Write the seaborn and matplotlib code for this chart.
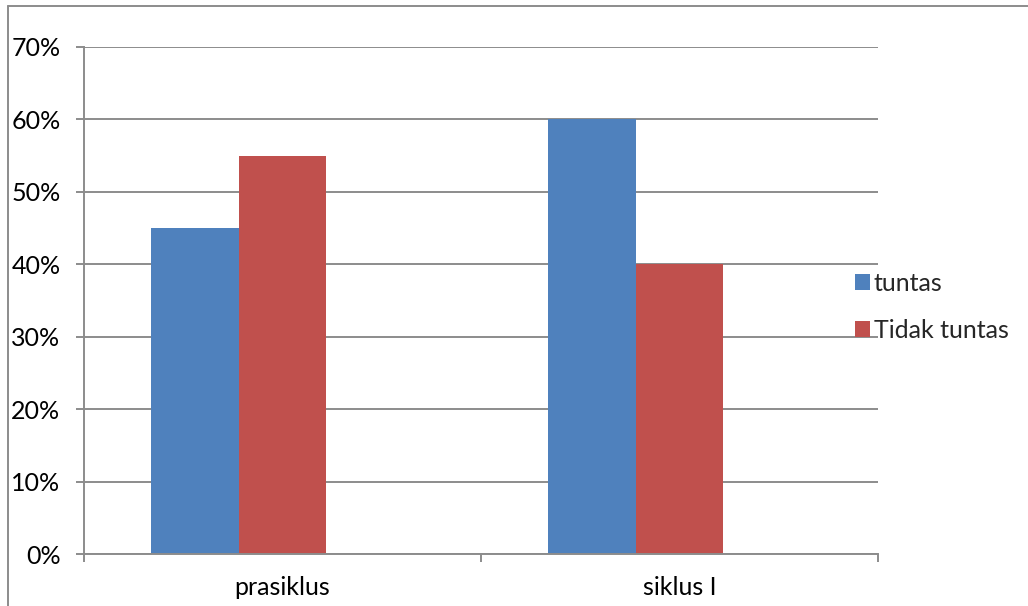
import matplotlib
matplotlib.use("Agg")
import matplotlib.pyplot as plt
import seaborn as sns
import pandas as pd
from matplotlib.patches import Patch
from matplotlib.lines import Line2D
from matplotlib.ticker import FixedLocator, PercentFormatter

categories = ["prasiklus", "siklus I"]
tuntas = [0.45, 0.60]
tidak_tuntas = [0.55, 0.40]
series_names = ["tuntas", "Tidak tuntas"]
y_ticks = [0, 0.1, 0.2, 0.3, 0.4, 0.5, 0.6, 0.7]

colors = ["#4F81BD", "#C0504D", "#9BBB59"]
grid_color = "#8C8C8C"

sns.set_theme(style="white")
plt.rcParams["font.family"] = ["Lato", "DejaVu Sans"]

df = pd.DataFrame({
    "kategori": categories * 2,
    "seri": [series_names[0]] * 2 + [series_names[1]] * 2,
    "nilai": tuntas + tidak_tuntas,
})

fig = plt.figure(figsize=(10.28, 6.06), dpi=100)
W, H = 1028, 606
ax = fig.add_axes([84 / W, (H - 554) / H, (878 - 84) / W, (554 - 47) / H])

# three slots per category (the third slot is an empty series), as in the source workbook
sns.barplot(data=df, x="kategori", y="nilai", hue="seri",
            hue_order=series_names + [""], palette=colors,
            order=categories, width=0.663, gap=0, ax=ax,
            errorbar=None, legend=False, saturation=1, linewidth=0)

ax.set_xlim(-0.5, 1.5)
ax.set_ylim(0, 0.7)
ax.set_yticks(y_ticks)
ax.yaxis.set_major_formatter(PercentFormatter(1.0, decimals=0))
ax.yaxis.grid(True, color=grid_color, linewidth=1.4)
ax.set_axisbelow(True)

# category boundary ticks below the axis, labels centred in each category
ax.xaxis.set_major_locator(FixedLocator([-0.5, 0.5, 1.5]))
ax.xaxis.set_minor_locator(FixedLocator([0, 1]))
ax.set_xticklabels(["", "", ""])
ax.set_xticklabels(categories, minor=True)
ax.tick_params(axis="x", which="major", length=6, width=1.4, color=grid_color,
               direction="out", bottom=True)
ax.tick_params(axis="x", which="minor", length=0, pad=16, labelsize=18,
               labelcolor="black")
ax.tick_params(axis="y", length=6, width=1.4, color=grid_color, direction="out",
               left=True, labelsize=18, labelcolor="black", pad=11)

for side in ["top", "right"]:
    ax.spines[side].set_visible(False)
for side in ["left", "bottom"]:
    ax.spines[side].set_color(grid_color)
    ax.spines[side].set_linewidth(1.4)
ax.set_xlabel("")
ax.set_ylabel("")

handles = [Patch(facecolor=colors[i], edgecolor="none", label=series_names[i])
           for i in range(2)]
fig.legend(handles=handles, loc="center left",
           bbox_to_anchor=(845 / W, 1 - 307 / H), frameon=False,
           fontsize=18, handlelength=0.6, handleheight=0.6,
           handletextpad=0.15, labelspacing=0.95, borderaxespad=0)

# chart area border (top and left edges)
fig.add_artist(Line2D([8 / W, 1.0], [1 - 6 / H, 1 - 6 / H],
                      transform=fig.transFigure, color=grid_color, linewidth=1.4))
fig.add_artist(Line2D([8 / W, 8 / W], [1 - 6 / H, 0],
                      transform=fig.transFigure, color=grid_color, linewidth=1.4))

fig.savefig("out.png", dpi=100, facecolor="white")
